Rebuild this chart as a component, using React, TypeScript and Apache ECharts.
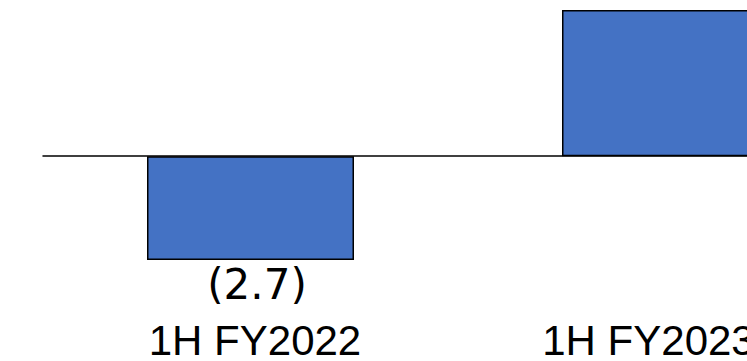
import React, { useEffect, useRef } from "react";
import * as echarts from "echarts";

const categories = ["1H FY2022", "1H FY2023"];
const values = [-2.7, 3.8];
const yMin = -4;
const yMax = 4;

const labelFont = "Liberation Sans, Arial, sans-serif";

export default function App() {
  const ref = useRef<HTMLDivElement>(null);
  useEffect(() => {
    if (!ref.current) return;
    const chart = echarts.init(ref.current, null, { renderer: "svg" });
    chart.setOption({
      animation: false,
      backgroundColor: "#ffffff",
      grid: { left: 43, right: 27, top: 2.4, bottom: 49.4, containLabel: false },
      xAxis: [
        {
          type: "category",
          data: categories,
          position: "bottom",
          axisLine: { show: true, onZero: true, lineStyle: { color: "#000000", width: 1.5 } },
          axisTick: { show: false },
          axisLabel: { show: false },
          splitLine: { show: false },
        },
        {
          type: "category",
          data: categories,
          position: "bottom",
          axisLine: { show: false, onZero: false },
          axisTick: { show: false },
          axisLabel: {
            show: true,
            margin: 12,
            color: "#000000",
            fontSize: 42,
            lineHeight: 36,
            fontFamily: labelFont,
            formatter: (v: string, i: number) => `{c${i}|${v}}`,
            rich: {
              c0: { fontSize: 42, lineHeight: 36, fontFamily: labelFont, color: "#000000", padding: [0, 0, 0, 9] },
              c1: { fontSize: 42, lineHeight: 36, fontFamily: labelFont, color: "#000000", padding: [0, 34, 0, 0] },
            },
          },
          splitLine: { show: false },
        },
      ],
      yAxis: {
        type: "value",
        min: yMin,
        max: yMax,
        show: false,
        splitLine: { show: false },
      },
      series: [
        {
          type: "bar",
          xAxisIndex: 0,
          barWidth: 207,
          data: values.map((v) => ({
            value: v,
            label: { show: v < 0 },
          })),
          itemStyle: { color: "#4472C4", borderColor: "#000000", borderWidth: 1.5 },
          label: {
            show: true,
            position: "bottom",
            distance: 3,
            padding: [0, 0, 0, 13],
            color: "#000000",
            fontSize: 42,
            fontFamily: "DejaVu Sans, sans-serif",
            formatter: (p: any) => {
              const v = p.value as number;
              return v < 0 ? `(${Math.abs(v).toFixed(1)})` : v.toFixed(1);
            },
          },
        },
      ],
    });
    return () => chart.dispose();
  }, []);
  return (
    <div
      style={{
        position: "fixed",
        left: 0,
        top: 0,
        width: 747,
        height: 361,
        overflow: "hidden",
        background: "#ffffff",
      }}
    >
      <div ref={ref} style={{ width: 900, height: 361 }} />
    </div>
  );
}
